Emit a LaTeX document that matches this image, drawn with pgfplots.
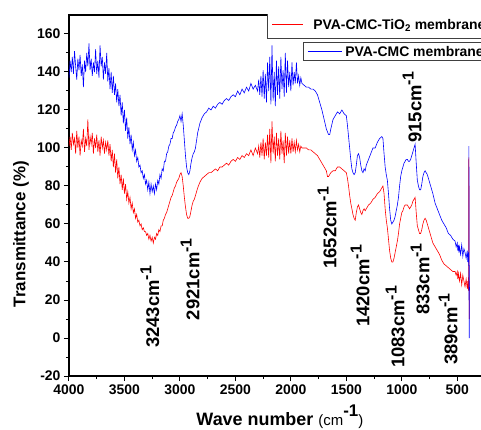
\documentclass[border=0pt]{standalone}
\usepackage{pgfplots}
\usepackage{pgfplotstable}
\pgfplotsset{compat=1.18}
\usepackage{fontspec}
\setmainfont{Liberation Sans}

\pgfplotstableread{
w T
4000 137
3990 146
3980 140
3970 148
3960 139
3950 151
3940 143
3930 136
3920 147
3910 141
3900 149
3890 138
3880 144
3870 132
3860 146
3850 140
3840 150
3830 143
3820 155
3810 141
3800 147
3790 138
3780 145
3770 140
3760 152
3750 139
3740 146
3730 137
3720 154
3710 143
3700 148
3690 136
3680 145
3670 139
3660 150
3650 135
3640 142
3630 131
3620 140
3610 129
3600 138
3590 128
3580 134
3570 124
3560 131
3550 122
3540 128
3530 117
3520 124
3510 113
3500 120
3490 109
3480 116
3470 105
3460 111
3450 102
3440 107
3430 99
3420 103
3410 96
3400 99
3390 93
3380 95
3370 90
3360 91
3350 87
3340 88
3330 84
3320 86
3310 81
3300 83
3290 78
3280 82
3270 76
3260 81
3250 77
3240 80
3230 76
3220 81
3210 78
3200 83
3190 81
3180 86
3170 84
3160 89
3150 88
3140 93
3130 93
3120 97
3110 98
3100 101
3090 102
3080 105
3070 105
3060 108
3050 109
3040 111
3030 112
3020 114
3010 115
3000 117
2990 114
2980 118
2970 112
2960 104
2950 96
2940 90
2930 87
2920 86
2910 88
2900 92
2890 95
2880 97
2870 98
2860 100
2850 104
2840 108
2820 113
2800 116
2780 118
2760 119
2740 121
2720 120
2700 122
2680 121
2660 123
2640 124
2620 123
2600 125
2580 126
2560 125
2540 127
2520 128
2500 127
2480 130
2460 128
2440 131
2420 129
2400 132
2380 130
2360 134
2340 131
2320 133
2300 130
2290 136
2280 128
2270 138
2260 127
2250 141
2240 126
2230 139
2220 124
2210 145
2200 130
2190 148
2180 123
2170 154
2160 125
2150 140
2140 122
2130 146
2120 128
2110 143
2100 126
2090 148
2080 131
2070 141
2060 127
2050 150
2040 129
2030 146
2020 132
2010 140
2000 130
1990 145
1980 133
1970 140
1960 134
1950 145
1940 134
1930 138
1920 133
1910 137
1900 134
1880 133
1860 132
1840 132
1820 131
1800 131
1780 130
1760 128
1740 124
1720 120
1700 115
1680 110
1660 107
1650 107
1640 110
1620 115
1600 117
1580 119
1560 118
1540 120
1520 118
1500 117
1490 112
1480 106
1470 100
1460 94
1450 89
1440 87
1430 86
1420 87
1410 91
1400 96
1390 97
1380 95
1370 91
1360 88
1350 87
1340 89
1330 88
1320 91
1300 94
1280 97
1260 100
1240 100
1220 103
1200 105
1180 106
1170 105
1160 97
1150 90
1140 86
1130 83
1120 76
1110 68
1100 62
1090 60
1080 61
1070 62
1060 64
1050 67
1040 70
1030 74
1020 80
1010 85
1000 88
990 90
980 92
970 93
960 94
950 94
940 93
930 93
920 94
910 96
900 98
890 100
880 102
870 92
860 83
850 80
840 78
830 78
820 81
810 85
800 87
790 88
780 87
770 86
760 84
740 80
720 76
700 71
680 68
660 65
640 62
620 60
600 58
580 55
560 54
540 52
520 51
510 48
500 50
495 46
490 49
485 45
480 48
470 44
460 49
450 43
440 47
430 45
420 42
410 46
405 40
400 45
397 38
396 43
395 101
394 20
393 90
392 0
391 35
390 25
}\blueT

\pgfplotstableread{
w T
4000 101
3990 106
3980 99
3970 108
3960 102
3950 105
3940 97
3930 109
3920 100
3910 106
3900 96
3890 104
3880 101
3870 110
3860 98
3850 105
3840 101
3830 115
3820 99
3810 106
3800 102
3790 108
3780 97
3770 105
3760 100
3750 107
3740 98
3730 104
3720 96
3710 106
3700 100
3690 104
3680 97
3670 103
3660 99
3650 104
3640 96
3630 102
3620 93
3610 99
3600 90
3590 97
3580 87
3570 94
3560 84
3550 90
3540 81
3530 86
3520 78
3510 84
3500 76
3490 81
3480 73
3470 77
3460 71
3450 74
3440 68
3430 71
3420 66
3410 68
3400 63
3390 65
3380 61
3370 62
3360 59
3350 60
3340 57
3330 58
3320 56
3310 56
3300 54
3290 55
3280 52
3270 54
3260 51
3250 53
3240 50
3230 53
3220 52
3210 55
3200 54
3190 57
3180 56
3170 59
3160 59
3150 62
3140 63
3130 65
3120 66
3110 68
3100 70
3090 72
3080 74
3070 75
3060 77
3050 79
3040 80
3030 82
3020 83
3010 84
3000 86
2990 87
2980 85
2970 80
2960 74
2950 69
2940 65
2930 63
2920 63
2910 64
2900 67
2890 70
2880 72
2870 73
2860 75
2850 77
2840 79
2820 82
2800 84
2780 85
2760 86
2740 87
2720 87
2700 88
2680 89
2660 88
2640 90
2620 90
2600 91
2580 92
2560 91
2540 93
2520 94
2500 93
2480 95
2460 94
2440 96
2420 95
2400 97
2380 96
2360 99
2340 96
2320 100
2300 97
2290 101
2280 95
2270 103
2260 96
2250 105
2240 94
2230 103
2220 96
2210 107
2200 95
2190 110
2180 92
2170 114
2160 97
2150 106
2140 93
2130 108
2120 96
2110 105
2100 94
2090 109
2080 97
2070 104
2060 92
2050 108
2040 96
2030 106
2020 97
2010 104
2000 97
1990 105
1980 98
1970 103
1960 98
1950 104
1940 99
1930 102
1920 98
1910 101
1900 100
1880 100
1860 100
1840 99
1820 99
1800 98
1780 97
1760 96
1740 94
1720 92
1700 90
1680 88
1670 85
1660 85
1650 86
1640 87
1620 88
1600 88
1580 90
1560 90
1540 89
1520 88
1500 87
1490 84
1480 80
1470 75
1460 71
1450 68
1440 65
1430 63
1420 62
1410 66
1400 69
1390 70
1380 68
1370 66
1360 65
1350 67
1340 68
1330 67
1320 68
1300 70
1280 71
1260 73
1240 74
1220 76
1200 77
1180 79
1170 80
1160 76
1150 68
1140 62
1130 58
1120 52
1110 46
1100 42
1090 40
1080 40
1070 42
1060 45
1050 48
1040 51
1030 55
1020 60
1010 63
1000 66
990 67
980 69
970 70
960 70
950 70
940 69
930 68
920 69
910 70
900 72
890 73
880 74
870 66
860 59
850 57
840 55
830 55
820 57
810 60
800 62
790 63
780 62
770 60
760 58
740 54
720 50
700 48
680 46
660 44
640 41
620 39
600 38
580 37
560 36
540 35
520 35
510 33
500 35
495 31
490 34
480 30
470 34
460 28
450 33
440 30
430 27
420 31
410 26
405 30
400 25
398 33
396 95
395 35
394 80
393 20
392 10
391 30
}\redT

\newcommand{\pk}[1]{#1cm\raisebox{0.42em}{\fontsize{16}{16}\selectfont -1}}

\begin{document}
\begin{tikzpicture}
\begin{axis}[
  name=ax,
  scale only axis,
  width=416bp, height=361bp,
  x dir=reverse,
  xmin=250, xmax=4000,
  ymin=-20, ymax=170,
  xtick={500,1000,...,4000},
  ytick={-20,0,...,160},
  minor x tick num=1,
  minor y tick num=1,
  tick align=outside,
  xtick pos=left, ytick pos=left,
  major tick length=5bp,
  minor tick length=3bp,
  axis line style={line width=1.2bp},
  tick style={line width=1bp, black},
  /pgf/number format/assume math mode=true,
  /pgf/number format/1000 sep={},
  tick label style={font=\fontsize{14}{16}\selectfont\bfseries},
  xlabel={\fontsize{18}{20}\selectfont\bfseries Wave number {\mdseries\fontsize{15}{16}\selectfont (cm}\raisebox{0.5em}{\fontsize{17}{17}\selectfont\bfseries -1}{\mdseries\fontsize{15}{16}\selectfont )}},
  ylabel={\fontsize{17}{19}\selectfont\bfseries Transmittance (\%)},
  xlabel style={at={(axis description cs:0.507,-0.114)}, anchor=center},
  ylabel style={at={(axis description cs:-0.1154,0.393)}, anchor=center, rotate=0},
  clip=true,
]
\addplot[red, line width=0.6bp] table[x=w, y=T] {\redT};
\addplot[blue, line width=0.6bp] table[x=w, y=T] {\blueT};

\tikzset{pk/.style={font=\fontsize{18.5}{18.5}\selectfont\bfseries, rotate=90, anchor=center, inner sep=0pt}}
\node[pk] at (axis cs:3270,16.3) {\pk{3243}};
\node[pk] at (axis cs:2909,31) {\pk{2921}};
\node[pk] at (axis cs:1674,58) {\pk{1652}};
\node[pk] at (axis cs:1376,27.4) {\pk{1420}};
\node[pk] at (axis cs:1060,5.8) {\pk{1083}};
\node[pk] at (axis cs:835,31) {\pk{833}};
\node[pk] at (axis cs:582,4.7) {\pk{389}};
\node[pk] at (axis cs:907,121.6) {\pk{915}};

\node[draw=black!75, line width=0.6bp, fill=white, anchor=north west, inner xsep=5bp, inner ysep=0pt, minimum height=25bp,
  font=\fontsize{14}{16}\selectfont\bfseries] (lg1) at (axis description cs:0.476,1.0055)
  {\hspace{41bp}PVA-CMC-TiO\textsubscript{2} membrane\hspace{30bp}};
\draw[red, line width=0.8bp] ([xshift=5bp,yshift=1.5bp]lg1.west) -- ([xshift=36bp,yshift=1.5bp]lg1.west);
\node[draw=black!75, line width=0.6bp, fill=white, anchor=north west, inner xsep=5bp, inner ysep=0pt, minimum height=18bp,
  font=\fontsize{14}{16}\selectfont\bfseries] (lg2) at (axis description cs:0.5625,0.925)
  {\hspace{37bp}PVA-CMC membrane\hspace{30bp}};
\draw[blue, line width=0.8bp] ([xshift=5bp]lg2.west) -- ([xshift=39bp]lg2.west);
\end{axis}
\pgfresetboundingbox
\path[use as bounding box] ([xshift=-69bp,yshift=-54bp]ax.south west) rectangle ([xshift=412bp,yshift=15bp]ax.north west);
\end{tikzpicture}
\end{document}
